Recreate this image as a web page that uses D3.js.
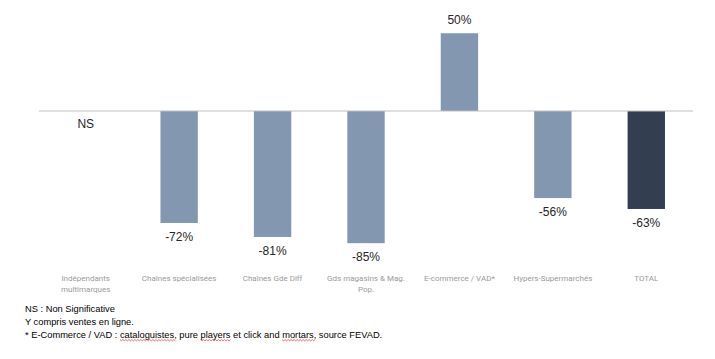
<!DOCTYPE html>
<html>
<head>
<meta charset="utf-8">
<script src="https://cdn.jsdelivr.net/npm/d3@7.9.0/dist/d3.min.js"></script>
<style>
  body { margin: 0; background: #fff; }
  svg { display: block; }
</style>
</head>
<body>
<svg id="chart" width="715" height="359"></svg>
<script>
// categories (label lines) and values in %, null = non significant
const categories = [
  ['Indépendants', 'multimarques'],
  ['Chaînes spécialisées'],
  ['Chaînes Gde Diff'],
  ['Gds magasins & Mag.', 'Pop.'],
  ['E-commerce / VAD*'],
  ['Hypers-Supermarchés'],
  ['TOTAL']
];
const values = [null, -72, -81, -85, 50, -56, -63];
const isTotal = [false, false, false, false, false, false, true];

const notes = [
  'NS : Non Significative',
  'Y compris ventes en ligne.',
  '* E-Commerce / VAD : cataloguistes, pure players et click and mortars, source FEVAD.'
];
const misspelled = ['cataloguistes', 'players', 'mortars'];

const svg = d3.select('#chart');

const x = d3.scaleBand()
  .domain(d3.range(categories.length))
  .range([39, 693])
  .paddingInner(0.6)
  .paddingOuter(0.3);

const y = d3.scaleLinear()
  .domain([-100, 60])
  .range([266.5, 17.7]);

const y0 = y(0);

// bars
svg.selectAll('rect.bar')
  .data(values.map((v, i) => ({ v, i })).filter(d => d.v !== null))
  .join('rect')
  .attr('class', 'bar')
  .attr('x', d => x(d.i))
  .attr('width', x.bandwidth())
  .attr('y', d => Math.min(y(d.v), y0))
  .attr('height', d => Math.abs(y(d.v) - y0))
  .attr('fill', d => isTotal[d.i] ? '#333f50' : '#8497b0');

// zero line
svg.append('line')
  .attr('x1', 39).attr('x2', 693)
  .attr('y1', y0).attr('y2', y0)
  .attr('stroke', '#bfbfbf')
  .attr('stroke-width', 1.2);

// value labels
svg.selectAll('text.val')
  .data(values.map((v, i) => ({ v, i })))
  .join('text')
  .attr('class', 'val')
  .attr('x', d => x(d.i) + x.bandwidth() / 2)
  .attr('y', d => d.v === null ? y0 + 17 : (d.v >= 0 ? y(d.v) - 9 : y(d.v) + 18))
  .attr('text-anchor', 'middle')
  .attr('font-family', 'Liberation Sans, Arial, sans-serif')
  .attr('font-size', 12)
  .attr('fill', '#262626')
  .text(d => d.v === null ? 'NS' : d.v + '%');

// category labels
const cat = svg.selectAll('text.cat')
  .data(categories)
  .join('text')
  .attr('class', 'cat')
  .attr('text-anchor', 'middle')
  .attr('font-family', 'Roboto, sans-serif')
  .attr('font-size', 8)
  .attr('fill', '#9a9a9a');
cat.selectAll('tspan')
  .data((d, i) => d.map(t => ({ t, i })))
  .join('tspan')
  .attr('x', d => x(d.i) + x.bandwidth() / 2)
  .attr('y', (d, j) => 281 + j * 10.5)
  .text(d => d.t);

// footnotes
const noteText = svg.selectAll('text.note')
  .data(notes)
  .join('text')
  .attr('class', 'note')
  .attr('x', 25)
  .attr('y', (d, i) => 312 + i * 12.8)
  .attr('font-family', 'Liberation Sans, Arial, sans-serif')
  .attr('font-size', 9.3)
  .attr('fill', '#000')
  .text(d => d);

// red spell-check squiggles under some words of the last note
const last = noteText.filter((d, i) => i === notes.length - 1);
const node = last.node();
const str = notes[notes.length - 1];
misspelled.forEach(w => {
  const start = str.indexOf(w);
  const x0 = 25 + node.getSubStringLength(0, start);
  const wLen = node.getSubStringLength(start, w.length);
  const yb = 312 + 2 * 12.8 + 2;
  let p = `M${x0},${yb}`;
  for (let k = 0, xx = x0; xx < x0 + wLen; k++) {
    xx += 1.5;
    p += `L${xx},${yb + (k % 2 === 0 ? 1.2 : 0)}`;
  }
  svg.append('path')
    .attr('d', p)
    .attr('fill', 'none')
    .attr('stroke', '#e03030')
    .attr('stroke-width', 0.7);
});
</script>
</body>
</html>
